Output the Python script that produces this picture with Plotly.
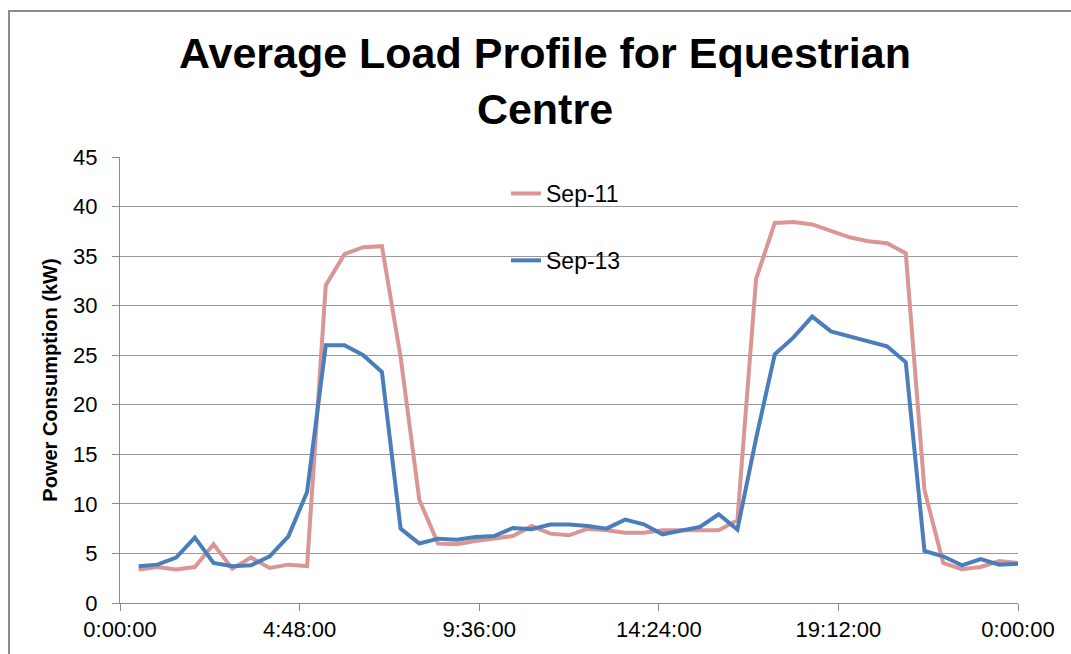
import plotly.graph_objects as go

# Half-hourly time stamps (hours after midnight), 0:30 .. 24:00
hours = [0.5 * i for i in range(1, 49)]

sep_11 = [3.37, 3.63, 3.37, 3.63, 5.92, 3.47, 4.58, 3.53, 3.87, 3.73, 32.07, 35.2,
          35.9, 36.0, 24.8, 10.4, 5.99, 5.92, 6.26, 6.56, 6.76, 7.77, 7.00, 6.83,
          7.5, 7.34, 7.10, 7.10, 7.34, 7.34, 7.34, 7.34, 8.35, 32.7, 38.35, 38.45,
          38.2, 37.6, 36.9, 36.5, 36.3, 35.3, 11.4, 4.04, 3.40, 3.63, 4.24, 4.04]

sep_13 = [3.70, 3.87, 4.58, 6.60, 4.04, 3.70, 3.80, 4.71, 6.73, 11.2, 26.0, 26.0,
          25.0, 23.3, 7.5, 6.0, 6.49, 6.39, 6.66, 6.76, 7.57, 7.44, 7.91, 7.91,
          7.77, 7.50, 8.41, 7.94, 6.93, 7.27, 7.67, 8.95, 7.40, 16.6, 25.1, 26.8,
          28.9, 27.4, 26.9, 26.4, 25.9, 24.3, 5.25, 4.71, 3.80, 4.44, 3.87, 3.97]

tick_vals = [0, 4.8, 9.6, 14.4, 19.2, 24]
tick_text = ["0:00:00", "4:48:00", "9:36:00", "14:24:00", "19:12:00", "0:00:00"]

FONT = "Liberation Sans, Arial, sans-serif"
W, H = 1071, 654
L, R, T, B = 120, 53, 157, 51
pw, ph = W - L - R, H - T - B

def px_x(x):
    return (x - L) / pw

def px_y(y):
    return (H - B - y) / ph

fig = go.Figure()
fig.add_trace(go.Scatter(x=hours, y=sep_11, mode="lines", name="Sep-11",
                         legendgroup="a",
                         line=dict(color="#D99694", width=4)))
fig.add_trace(go.Scatter(x=hours, y=sep_13, mode="lines", name="Sep-13",
                         legendgroup="b",
                         line=dict(color="#4A7EBB", width=4)))

fig.update_layout(
    width=W, height=H,
    margin=dict(l=L, r=R, t=T, b=B, autoexpand=False),
    paper_bgcolor="white", plot_bgcolor="white",
    font=dict(family=FONT, color="black", size=22),
    title=dict(text="<b>Average Load Profile for Equestrian<br>Centre</b>",
               x=545 / W, xanchor="center", y=1 - 68 / H, yanchor="top",
               font=dict(family=FONT, size=43, color="black")),
    showlegend=True,
    legend=dict(x=px_x(506), y=px_y(172), xanchor="left", yanchor="top",
                bgcolor="rgba(0,0,0,0)", font=dict(size=23, family=FONT),
                tracegroupgap=34, traceorder="grouped"),
    xaxis=dict(range=[0, 24], tickvals=tick_vals, ticktext=tick_text,
               showgrid=False, zeroline=False, showline=True,
               linecolor="#8C8C8C", linewidth=1, ticks="outside",
               ticklen=7, tickcolor="#8C8C8C",
               tickfont=dict(size=22, family=FONT)),
    yaxis=dict(range=[0, 45], dtick=5, tick0=0, showgrid=True,
               gridcolor="#9A9A9A", gridwidth=1, zeroline=False,
               showline=True, linecolor="#8C8C8C", linewidth=1,
               ticks="outside", ticklen=7, tickcolor="#8C8C8C",
               ticklabelstandoff=10,
               tickfont=dict(size=22, family=FONT),
               title=dict(text="<b>Power Consumption (kW)</b>",
                          font=dict(size=20, family=FONT), standoff=10)),
    shapes=[dict(type="rect", xref="paper", yref="paper",
                 x0=px_x(9), x1=px_x(1090), y0=px_y(700), y1=px_y(11),
                 line=dict(color="#8A8A8A", width=2), fillcolor="rgba(0,0,0,0)",
                 layer="below")],
)

fig.write_html("out.html",
               config={"displayModeBar": False},
               post_script="document.body.style.margin='0';"
                           "document.body.style.padding='0';")
